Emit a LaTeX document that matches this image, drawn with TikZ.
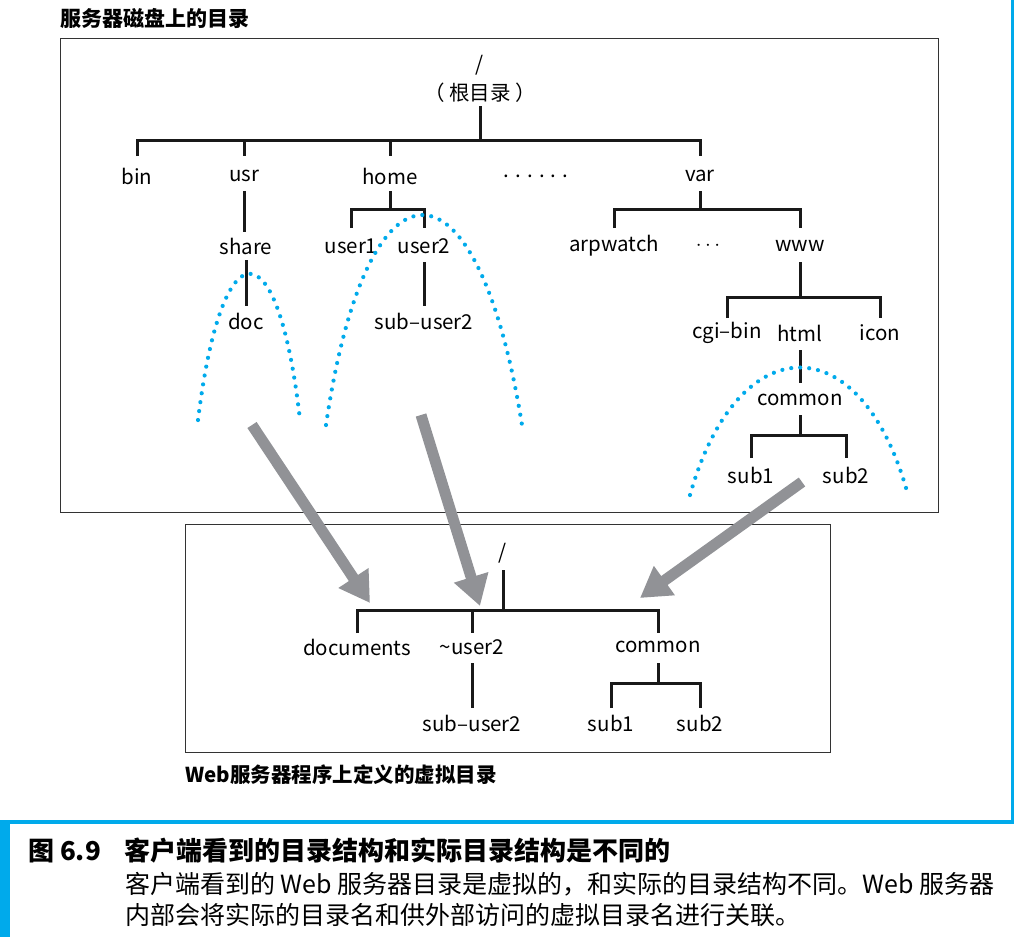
\documentclass[tikz,border=0pt]{standalone}
\usepackage{fontspec}
\setmainfont{Noto Sans CJK SC}
\usetikzlibrary{arrows.meta}
\definecolor{cy}{RGB}{0,170,235}
\definecolor{ag}{RGB}{145,146,150}
\begin{document}
\begin{tikzpicture}[x=1pt,y=-1pt,
  t/.style={font=\fontsize{20.5}{20.5}\selectfont,inner sep=0pt,anchor=center},
  br/.style={line width=3pt,black!90},
  dots/.style={cy,line width=4.2pt,line cap=round,dash pattern=on 0pt off 9pt},
  big/.style={ag,line width=11pt,-{Triangle[length=30pt,width=34pt]}},
  frame/.style={line width=1pt,black!80}]
\useasboundingbox (0,0) rectangle (1028,937);
% blue frame
\draw[cy,line width=3pt] (1012,0) -- (1012,822);
\draw[cy,line width=4pt] (0,822) -- (1014,822);
\fill[cy] (0,820) rectangle (10,937);
% boxes
\draw[frame] (60,38) rectangle (938,512);
\draw[frame] (185,524) rectangle (830,752);
\node[anchor=west,inner sep=0pt,font=\fontsize{21}{21}\selectfont\bfseries] (t1) at (60,18) {服务器磁盘上的目录};
\node[anchor=west,inner sep=0pt,font=\fontsize{20.5}{20.5}\selectfont\bfseries] (t2) at (185,775) {Web服务器程序上定义的虚拟目录};
% top tree
\node[t] (root) at (480,65) {/};
\node[t] (rl) at (480,93) {（ 根目录 ）};
\node[t] (bin) at (137,176) {bin};
\node[t] (usr) at (244,176) {usr};
\node[t] (home) at (390,176) {home};
\node[t] (dd) at (536,176) {. . . . . .};
\node[t] (var) at (700,176) {var};
\node[t] (share) at (246,246) {share};
\node[t] (doc) at (246,321) {doc};
\node[t] (u1) at (351,246) {user1};
\node[t] (u2) at (424,246) {user2};
\node[t] (su2) at (424,321) {sub--user2};
\node[t] (arp) at (614,246) {arpwatch};
\node[t] (d3) at (708,246) {$\cdots$};
\node[t] (www) at (800,246) {www};
\node[t] (cgi) at (727,333) {cgi--bin};
\node[t] (html) at (800,333) {html};
\node[t] (icon) at (880,333) {icon};
\node[t] (com) at (800,400) {common};
\node[t] (s1) at (751,475) {sub1};
\node[t] (s2) at (846,475) {sub2};
\coordinate (j0) at (480,140);
\draw[br] (480,106) -- (j0);
\draw[br] (137,156) -- (137,140) -- (700,140) -- (700,156);
\draw[br] (244,140) -- (244,156); \draw[br] (390,140) -- (390,156);
\draw[br] (244,191) -- (244,232);
\draw[br] (246,260) -- (246,306);
\draw[br] (390,191) -- (390,209);
\draw[br] (351,228) -- (351,209) -- (424,209) -- (424,228);
\draw[br] (424,262) -- (424,306);
\draw[br] (700,191) -- (700,209);
\draw[br] (614,228) -- (614,209) -- (800,209) -- (800,228);
\draw[br] (800,262) -- (800,297);
\draw[br] (727,318) -- (727,297) -- (880,297) -- (880,318);
\draw[br] (800,350) -- (800,383);
\draw[br] (800,415) -- (800,435);
\draw[br] (751,458) -- (751,435) -- (846,435) -- (846,458);
% dotted parabolas
\draw[dots] (198,420) .. controls (222,225) and (278,225) .. (300,420);
\draw[dots] (326,425) .. controls (367,145) and (477,145) .. (522,425);
\draw[dots] (690,495) .. controls (738,325) and (862,325) .. (908,495);
% bottom tree
\node[t] (vr) at (503,553) {/};
\node[t] (docs) at (357,647) {documents};
\node[t] (vu2) at (472,647) {\char"007E user2};
\node[t] (vc) at (658,647) {common};
\node[t] (vsu) at (472,723) {sub--user2};
\node[t] (vs1) at (611,723) {sub1};
\node[t] (vs2) at (700,723) {sub2};
\draw[br] (503,570) -- (503,610);
\draw[br] (357,633) -- (357,610) -- (658,610) -- (658,633);
\draw[br] (472,610) -- (472,633);
\draw[br] (472,663) -- (472,708);
\draw[br] (658,663) -- (658,683);
\draw[br] (611,708) -- (611,683) -- (700,683) -- (700,708);
% arrows
\coordinate (a1) at (252,425); \coordinate (b1) at (370,603);
\coordinate (a2) at (421,415); \coordinate (b2) at (480,606);
\coordinate (a3) at (802,482); \coordinate (b3) at (640,598);
\draw[big] (a1) -- (b1);
\draw[big] (a2) -- (b2);
\draw[big] (a3) -- (b3);
% caption
\node[anchor=west,inner sep=0pt,font=\fontsize{26}{26}\selectfont\bfseries] (cap) at (28,851) {图 6.9\hspace{24pt}客户端看到的目录结构和实际目录结构是不同的};
\node[anchor=west,inner sep=0pt,font=\fontsize{25}{25}\selectfont] (c1) at (125,884) {客户端看到的 Web 服务器目录是虚拟的，和实际的目录结构不同。Web 服务器};
\node[anchor=west,inner sep=0pt,font=\fontsize{25}{25}\selectfont] (c2) at (125,915) {内部会将实际的目录名和供外部访问的虚拟目录名进行关联。};
\end{tikzpicture}
\end{document}
